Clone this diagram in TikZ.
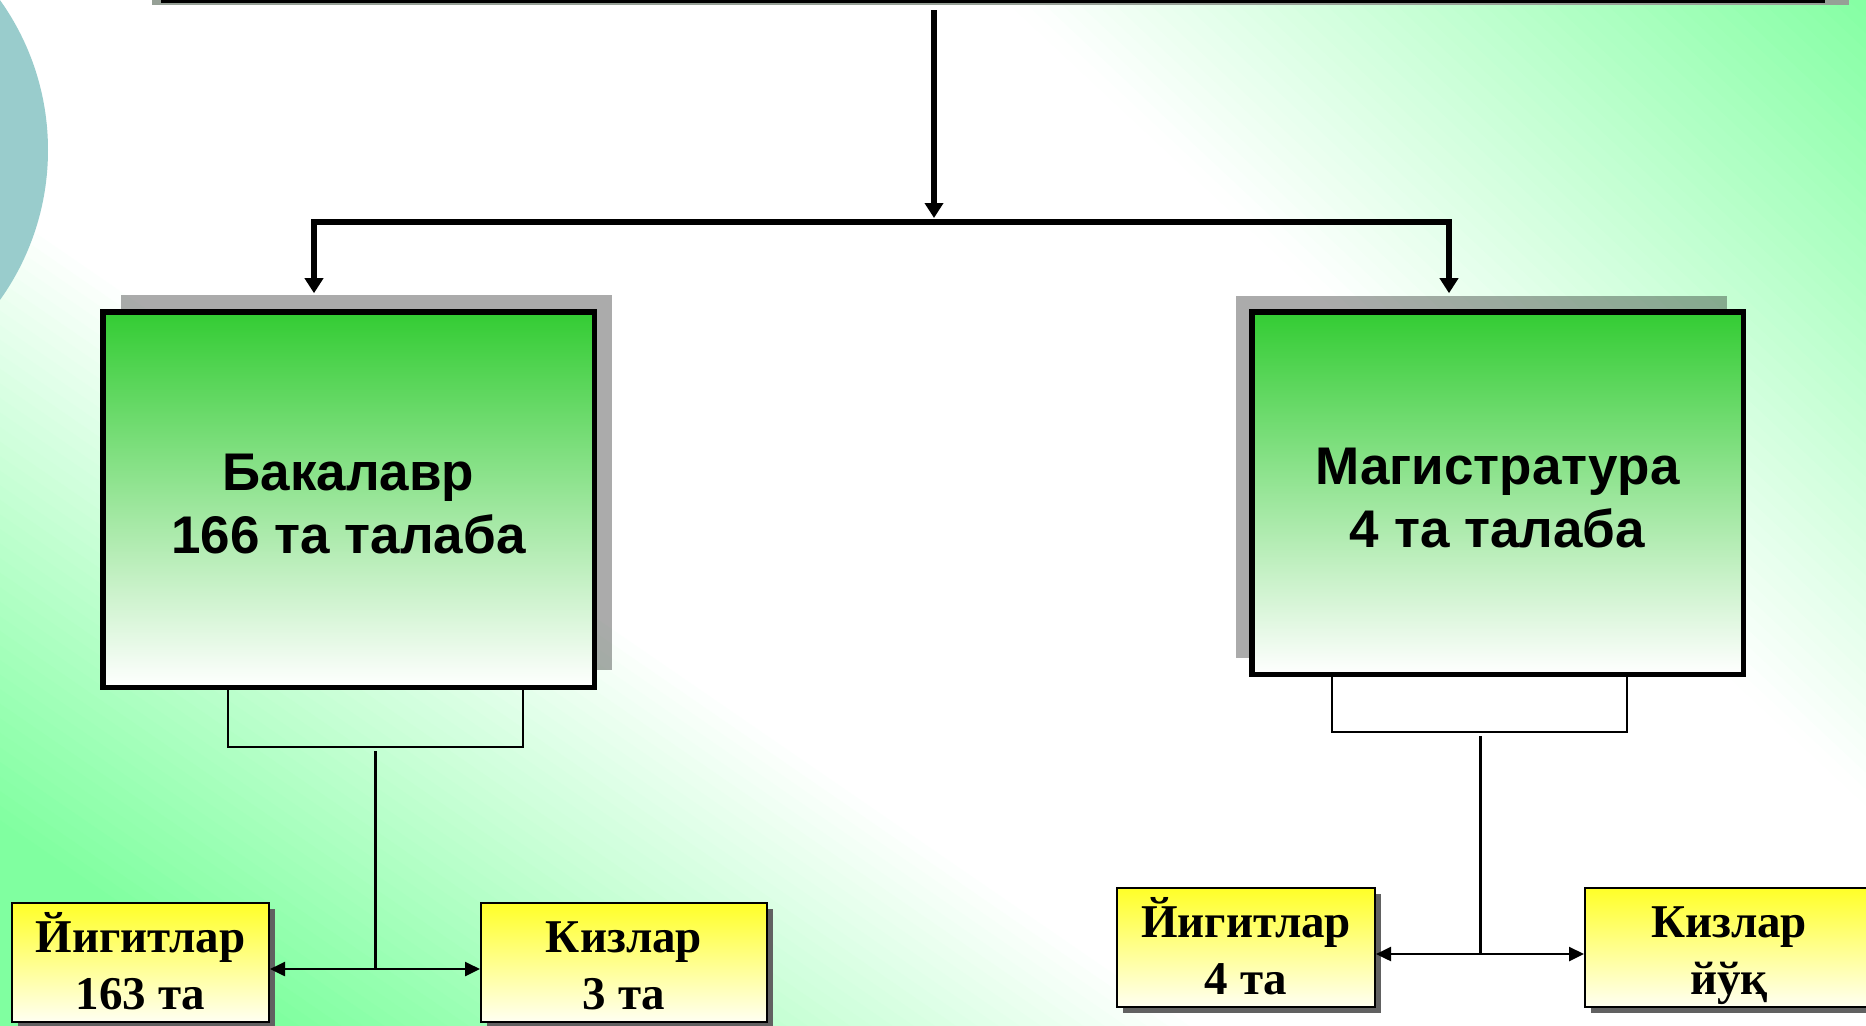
\documentclass[tikz,border=0pt]{standalone}
\usepackage{fontspec}
\setmainfont{Liberation Serif}
\newfontfamily\lsans{Liberation Sans}
\usetikzlibrary{arrows.meta,shadows,calc}
\definecolor{bgg}{RGB}{128,255,160}
\definecolor{mgreen}{RGB}{51,204,51}
\definecolor{ytop}{RGB}{255,255,40}
\definecolor{ybot}{RGB}{255,255,242}
\definecolor{circ}{RGB}{153,204,204}
\definecolor{topgray}{RGB}{150,160,150}
\begin{document}
\begin{tikzpicture}[x=0.5pt,y=-0.5pt,
  mainbox/.style={draw=black, line width=2.75pt, top color=mgreen, bottom color=white,
    minimum width=245.75pt, inner sep=0pt, text height=54pt, text depth=0pt,
    font=\lsans\bfseries\fontsize{26.5pt}{31.5pt}\selectfont},
  lshadow/.style={drop shadow={shadow xshift=9pt, shadow yshift=8.5pt, fill=black, opacity=0.33}},
  rshadow/.style={drop shadow={shadow xshift=-8pt, shadow yshift=8pt, fill=black, opacity=0.33}},
  subbox/.style={draw=black, line width=1pt, top color=ytop, bottom color=ybot,
    minimum height=59.5pt, inner sep=0pt, text height=46.5pt, text depth=0pt,
    font=\bfseries\fontsize{23.5pt}{28.5pt}\selectfont,
    drop shadow={shadow xshift=3pt, shadow yshift=-3pt, fill=black!62, opacity=1}},
  bigarrow/.style={line width=3pt, -{Triangle[length=7.5pt,width=9pt]}},
  bracket/.style={line width=1pt},
  stem/.style={line width=1.5pt},
  dblarrow/.style={line width=1.2pt, {Triangle[length=7.5pt,width=7pt]}-{Triangle[length=7.5pt,width=7pt]}},
]
\useasboundingbox (0,0) rectangle (1866,1025);
\clip (0,0) rectangle (1866,1025);
% background: white band with green towards top-right and bottom-left
\fill[white] (0,0) rectangle (1866,1025);
\begin{scope}[rotate=-43.08]
\foreach \i in {0,...,53}{
  \pgfmathsetmacro{\va}{-1310+12*\i}
  \pgfmathsetmacro{\vb}{-1310+12*\i+13}
  \pgfmathsetmacro{\f}{100*min(1,max(0,0.001643*(1304-12*\i)-1.136))}
  \fill[bgg!\f!white] (-2600,\va) rectangle (2600,\vb);
}
\end{scope}
\begin{scope}[rotate=-34.5]
\foreach \i in {0,...,60}{
  \pgfmathsetmacro{\va}{160+12*\i}
  \pgfmathsetmacro{\vb}{160+12*\i+13}
  \pgfmathsetmacro{\f}{100*min(1,max(0,0.0019416*(166+12*\i)-0.32))}
  \fill[bgg!\f!white] (-2600,\va) rectangle (2600,\vb);
}
\end{scope}
% decorative circle
\fill[circ] (-210,150) circle [radius=129pt];
% top edge
\fill[topgray] (152,0) rectangle (1849,5);
\coordinate (topL) at (161,1.7);
\coordinate (topR) at (1825,1.7);
\draw[line width=1.65pt] (topL) -- (topR);

% main boxes
\node[mainbox, lshadow, minimum height=187.75pt] (bak) at (348.5,499.5)
  {\begin{tabular}[b]{@{}c@{}}Бакалавр\\166 та талаба\end{tabular}};
\node[mainbox, rshadow, minimum height=181.25pt] (mag) at (1497.5,493)
  {\begin{tabular}[b]{@{}c@{}}Магистратура\\4 та талаба\end{tabular}};

% sub boxes
\node[subbox, minimum width=128.5pt] (yig1) at (140.5,962.5)
  {\begin{tabular}[b]{@{}c@{}}Йигитлар\\163 та\end{tabular}};
\node[subbox, minimum width=143pt] (kiz1) at (624,962.5)
  {\begin{tabular}[b]{@{}c@{}}Кизлар\\3 та\end{tabular}};
\node[subbox, minimum width=129pt] (yig2) at (1246,947.5)
  {\begin{tabular}[b]{@{}c@{}}Йигитлар\\4 та\end{tabular}};
\node[subbox, minimum width=144pt] (kiz2) at (1729,947.5)
  {\begin{tabular}[b]{@{}c@{}}Кизлар\\йўқ\end{tabular}};

% top connectors
\coordinate (tsrc) at (934,10);
\coordinate (jm) at (934,221.5);
\coordinate (jl) at (314,221.5);
\coordinate (jr) at (1449,221.5);
\draw[bigarrow, shorten >=1.75pt] (tsrc) -- (jm);
\draw[bigarrow, shorten >=7.9pt] (jm) -| (bak.north -| jl);
\draw[bigarrow, shorten >=7.9pt] (jm) -| (mag.north -| jr);

% left lower connectors
\coordinate (lb1) at (228,747);
\coordinate (lb2) at (523,747);
\draw[bracket] (bak.south -| lb1) -- (lb1) -- (lb2) -- (bak.south -| lb2);
\coordinate (ls) at (375,751);
\coordinate (lm) at (375,969);
\draw[stem] (ls) -- (lm);
\draw[dblarrow] ([yshift=-3.25pt]yig1.east) -- ([yshift=-3.25pt]kiz1.west);

% right lower connectors
\coordinate (rb1) at (1332,732);
\coordinate (rb2) at (1627,732);
\draw[bracket] (mag.south -| rb1) -- (rb1) -- (rb2) -- (mag.south -| rb2);
\coordinate (rs) at (1480,736);
\coordinate (rm) at (1480,954);
\draw[stem] (rs) -- (rm);
\draw[dblarrow] ([yshift=-3.25pt]yig2.east) -- ([yshift=-3.25pt]kiz2.west);
\end{tikzpicture}
\end{document}
